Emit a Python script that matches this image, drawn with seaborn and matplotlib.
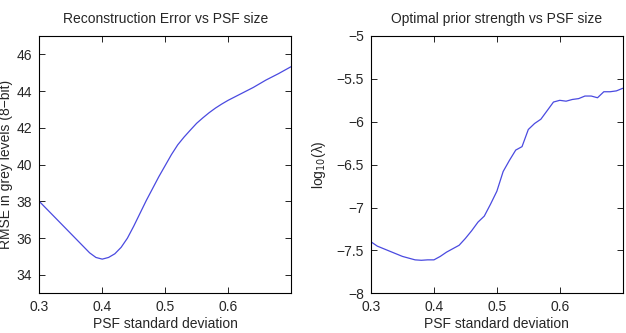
import matplotlib
matplotlib.use("Agg")
import matplotlib.pyplot as plt
import seaborn as sns
import pandas as pd

# Left panel: reconstruction error
psf_left = [0.30, 0.32, 0.34, 0.36, 0.38, 0.39, 0.40, 0.41, 0.42, 0.43, 0.44, 0.45,
            0.46, 0.47, 0.48, 0.49, 0.50, 0.51, 0.52, 0.53, 0.54, 0.55, 0.56, 0.57,
            0.58, 0.59, 0.60, 0.62, 0.64, 0.66, 0.68, 0.70]
rmse = [38.0, 37.3, 36.6, 35.9, 35.2, 34.95, 34.86, 34.95, 35.15, 35.5, 36.0, 36.65,
        37.35, 38.05, 38.7, 39.35, 39.95, 40.55, 41.08, 41.5, 41.88, 42.25, 42.55, 42.83,
        43.08, 43.3, 43.5, 43.85, 44.2, 44.6, 44.95, 45.33]

# Right panel: optimal prior strength
psf_right = [0.30, 0.31, 0.32, 0.33, 0.34, 0.35, 0.36, 0.37, 0.38, 0.39, 0.40,
             0.41, 0.42, 0.43, 0.44, 0.45, 0.46, 0.47, 0.48, 0.49, 0.50,
             0.51, 0.52, 0.53, 0.54, 0.55, 0.56, 0.57, 0.58, 0.59, 0.60,
             0.61, 0.62, 0.63, 0.64, 0.65, 0.66, 0.67, 0.68, 0.69, 0.70]
log_lambda = [-7.40, -7.45, -7.48, -7.51, -7.54, -7.57, -7.59, -7.61, -7.615, -7.61, -7.61,
              -7.57, -7.52, -7.48, -7.44, -7.36, -7.27, -7.17, -7.10, -6.96, -6.81,
              -6.58, -6.45, -6.33, -6.29, -6.09, -6.02, -5.97, -5.87, -5.77, -5.75,
              -5.76, -5.74, -5.73, -5.70, -5.70, -5.72, -5.65, -5.65, -5.64, -5.61]

xticks = [0.3, 0.4, 0.5, 0.6]
xticklabels = ["0.3", "0.4", "0.5", "0.6"]
left_yticks = [34, 36, 38, 40, 42, 44, 46]
right_yticks = [-8, -7.5, -7, -6.5, -6, -5.5, -5]
right_yticklabels = ["\u22128", "\u22127.5", "\u22127", "\u22126.5", "\u22126", "\u22125.5", "\u22125"]

sns.set_style("ticks")
plt.rcParams["font.family"] = ["Liberation Sans", "DejaVu Sans"]
plt.rcParams["xtick.direction"] = "in"
plt.rcParams["ytick.direction"] = "in"
plt.rcParams["xtick.top"] = True
plt.rcParams["ytick.right"] = True

fig = plt.figure(figsize=(6.26, 3.33), dpi=100)
ax1 = fig.add_axes([0.0628, 0.1192, 0.4021, 0.7727])
ax2 = fig.add_axes([0.5927, 0.1192, 0.4020, 0.7727])

line_color = "#4a4ae0"
df1 = pd.DataFrame({"x": psf_left, "y": rmse})
df2 = pd.DataFrame({"x": psf_right, "y": log_lambda})
sns.lineplot(data=df1, x="x", y="y", ax=ax1, color=line_color, linewidth=0.9)
sns.lineplot(data=df2, x="x", y="y", ax=ax2, color=line_color, linewidth=0.9)

for ax in (ax1, ax2):
    ax.set_xlim(0.3, 0.7)
    ax.set_xticks(xticks)
    ax.set_xticklabels(xticklabels)
    ax.set_xlabel("PSF standard deviation", fontsize=10, labelpad=2)
    ax.tick_params(axis="both", which="both", labelsize=10, length=4, width=0.6,
                   color="black", pad=5, top=True, right=True, direction="in")
    for s in ax.spines.values():
        s.set_linewidth(0.8)
        s.set_color("black")

ax1.set_ylim(33, 47)
ax1.set_yticks(left_yticks)
ax1.set_yticklabels([str(v) for v in left_yticks])
ax1.set_ylabel("RMSE in grey levels (8\u2212bit)", fontsize=10, labelpad=3)
ax1.set_title("Reconstruction Error vs PSF size", fontsize=10, pad=9)

ax2.set_ylim(-8, -5)
ax2.set_yticks(right_yticks)
ax2.set_yticklabels(right_yticklabels)
ax2.set_ylabel("log$_{10}$(\u03bb)", fontsize=10, labelpad=6)
ax2.set_title("Optimal prior strength vs PSF size", fontsize=10, pad=9)

fig.savefig("out.png", dpi=100)
